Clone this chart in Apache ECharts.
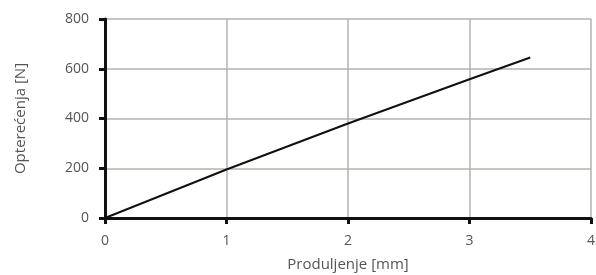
<!DOCTYPE html>
<html>
<head>
<meta charset="utf-8">
<script src="https://cdn.jsdelivr.net/npm/echarts@6/dist/echarts.min.js"></script>
<style>
html, body { margin: 0; padding: 0; background: #fff; }
#chart { width: 596px; height: 275px; }
</style>
</head>
<body>
<div id="chart"></div>
<script>
// podaci procitani sa slike
var produljenje = [0, 1, 2, 3, 3.5];
var opterecenje = [0, 195, 380, 558, 645];
var xTicks = [0, 1, 2, 3, 4];
var yTicks = [0, 200, 400, 600, 800];

var points = produljenje.map(function (x, i) { return [x, opterecenje[i]]; });

var myChart = echarts.init(document.getElementById('chart'));
var labelStyle = { color: '#555', fontSize: 14, fontFamily: 'Open Sans' };

var option = {
    animation: false,
    grid: { left: 105, right: 5, top: 19, bottom: 57, containLabel: false, outerBoundsMode: 'none' },
    xAxis: {
        type: 'value',
        min: xTicks[0],
        max: xTicks[xTicks.length - 1],
        interval: 1,
        name: 'Produljenje [mm]',
        nameLocation: 'middle',
        nameGap: 39,
        nameTextStyle: { color: '#555', fontSize: 15, fontFamily: 'Open Sans' },
        axisLine: { lineStyle: { color: '#111', width: 3 } },
        axisTick: { show: true, length: 6, lineStyle: { color: '#111', width: 3 } },
        axisLabel: Object.assign({ margin: 16 }, labelStyle),
        splitLine: { lineStyle: { color: '#b5b0ad', width: 1.5 } }
    },
    yAxis: {
        type: 'value',
        min: yTicks[0],
        max: yTicks[yTicks.length - 1],
        interval: 200,
        name: 'Opterećenja [N]',
        nameLocation: 'middle',
        nameGap: 77,
        nameTextStyle: { color: '#555', fontSize: 15, fontFamily: 'Open Sans' },
        axisLine: { show: true, lineStyle: { color: '#111', width: 3 } },
        axisTick: { show: true, length: 6, lineStyle: { color: '#111', width: 3 } },
        axisLabel: Object.assign({ margin: 16 }, labelStyle),
        splitLine: { lineStyle: { color: '#b5b0ad', width: 1.5 } }
    },
    series: [{
        type: 'line',
        data: points,
        showSymbol: false,
        lineStyle: { color: '#111', width: 2 }
    }]
};
myChart.setOption(option, true);
</script>
</body>
</html>
